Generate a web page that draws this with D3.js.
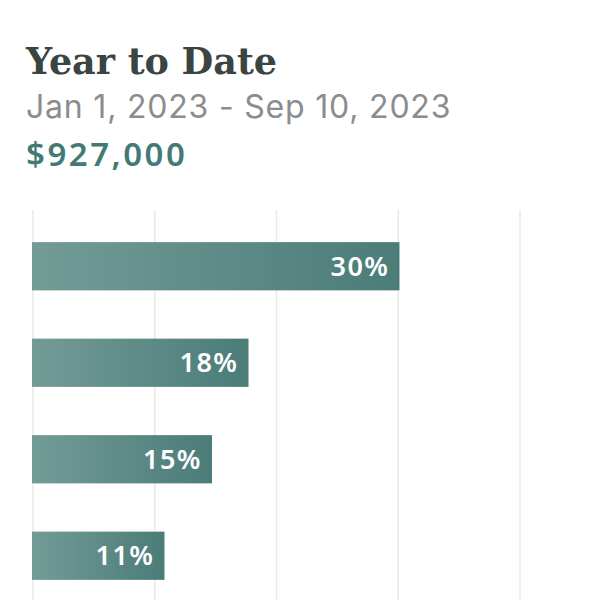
<!DOCTYPE html>
<html>
<head>
<meta charset="utf-8">
<script src="https://cdn.jsdelivr.net/npm/d3@7"></script>
<style>
  html, body { margin: 0; padding: 0; background: #fff; }
</style>
</head>
<body>
<svg id="chart" width="600" height="600"></svg>
<script>
// header texts
const title = "Year to Date";
const dateRange = "Jan 1, 2023 - Sep 10, 2023";
const total = "$927,000";

// bars (category names are not shown in the picture)
const categories = ["Segment A", "Segment B", "Segment C", "Segment D"];
const shares = [30.1, 17.7, 14.7, 10.8];
const labels = ["30%", "18%", "15%", "11%"];
const gridTicks = [0, 10, 20, 30, 40];

const width = 600, height = 600;
const svg = d3.select("#chart");

const x = d3.scaleLinear().domain([0, 40]).range([33, 520]);
const y = d3.scaleBand()
    .domain(categories)
    .range([218, 604])
    .paddingInner(0.5)
    .paddingOuter(0.25);

// horizontal gradient, light on the left, darker teal on the right
const grad = svg.append("defs").append("linearGradient")
    .attr("id", "barGrad")
    .attr("x1", "0%").attr("x2", "100%")
    .attr("y1", "0%").attr("y2", "0%");
grad.append("stop").attr("offset", "0%").attr("stop-color", "#6e9893");
grad.append("stop").attr("offset", "100%").attr("stop-color", "#457874");

// vertical grid lines
svg.append("g")
    .selectAll("line")
    .data(gridTicks)
    .join("line")
    .attr("x1", d => x(d)).attr("x2", d => x(d))
    .attr("y1", 210).attr("y2", height)
    .attr("stroke", "#e9e9e5")
    .attr("stroke-width", 1.5);

// bars
const rows = categories.map((c, i) => ({ cat: c, value: shares[i], label: labels[i] }));

svg.append("g")
    .selectAll("rect")
    .data(rows)
    .join("rect")
    .attr("x", x(0) - 1)
    .attr("y", d => y(d.cat))
    .attr("width", d => x(d.value) - x(0) + 1)
    .attr("height", y.bandwidth())
    .attr("fill", "url(#barGrad)")
    .attr("fill-opacity", 0.97);

svg.append("g")
    .selectAll("text")
    .data(rows)
    .join("text")
    .attr("x", d => x(d.value) - 10)
    .attr("y", d => y(d.cat) + y.bandwidth() / 2)
    .attr("dy", "0.36em")
    .attr("text-anchor", "end")
    .attr("fill", "#fff")
    .attr("font-family", "'Noto Sans', sans-serif")
    .attr("font-weight", 600)
    .attr("font-size", 27)
    .attr("letter-spacing", 1.5)
    .text(d => d.label);

// header
svg.append("text")
    .attr("x", 26).attr("y", 74)
    .attr("fill", "#3a4541")
    .attr("font-family", "'DejaVu Serif', serif")
    .attr("font-weight", "bold")
    .attr("font-size", 36.5)
    .text(title);

svg.append("text")
    .attr("x", 26).attr("y", 118)
    .attr("fill", "#8c8c8e")
    .attr("font-family", "Inter, sans-serif")
    .attr("font-size", 32)
    .attr("letter-spacing", 0.8)
    .text(dateRange);

svg.append("text")
    .attr("x", 26).attr("y", 166)
    .attr("fill", "#447a76")
    .attr("font-family", "'Noto Sans', sans-serif")
    .attr("font-weight", 600)
    .attr("font-size", 33)
    .attr("letter-spacing", 2.5)
    .text(total);
</script>
</body>
</html>
